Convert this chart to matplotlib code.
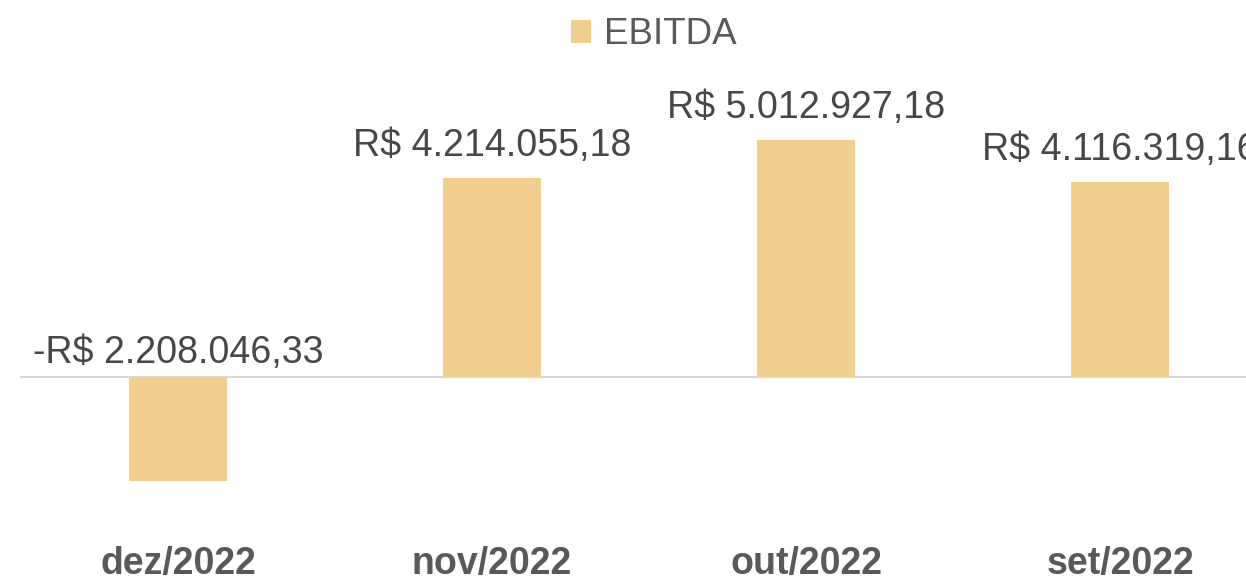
import matplotlib
matplotlib.use("Agg")
import matplotlib.pyplot as plt
from matplotlib.patches import Patch

categories = ["dez/2022", "nov/2022", "out/2022", "set/2022"]
ebitda = [-2208046.33, 4214055.18, 5012927.18, 4116319.16]
series_name = "EBITDA"

def fmt_brl(v):
    s = f"{abs(v):,.2f}".replace(",", "X").replace(".", ",").replace("X", ".")
    return ("-R$ " if v < 0 else "R$ ") + s

plt.rcParams['font.family'] = ['Liberation Sans', 'DejaVu Sans']

W, H = 1246, 577
fig = plt.figure(figsize=(W / 100, H / 100), dpi=100)
ax = fig.add_axes([20 / W, (H - 520) / H, (W - 20) / W, 460 / H])

bar_color = "#F2CE8E"
x = list(range(len(categories)))
bars = ax.bar(x, ebitda, width=0.312, color=bar_color, zorder=2)

ax.set_xlim(-0.503, 3.401)
ax.set_ylim(-3.0245e6, 6.705e6)
ax.axhline(0, color="#D9D9D9", lw=1.5, zorder=1)

for xi, v in zip(x, ebitda):
    y = max(v, 0)
    off = 15.8 if v > 0 else 10
    ax.annotate(fmt_brl(v), (xi, y), xytext=(0, off), textcoords="offset points",
                ha="center", va="baseline", fontsize=27.1, color="#474747",
                annotation_clip=False, clip_on=False)

for s in ax.spines.values():
    s.set_visible(False)
ax.set_yticks([])
ax.set_xticks(x)
ax.set_xticklabels(categories, fontsize=27, fontweight="bold", color="#595959")
ax.tick_params(axis="x", length=0, pad=19)

handles = [Patch(facecolor=bar_color, edgecolor="none", label=series_name)]
fig.legend(handles=handles, loc="center", bbox_to_anchor=(654 / W, 1 - 35 / H),
           frameon=False, fontsize=26.5, labelcolor="#595959",
           handlelength=0.55, handleheight=0.55, handletextpad=0.35)

fig.savefig("out.png", dpi=100)
